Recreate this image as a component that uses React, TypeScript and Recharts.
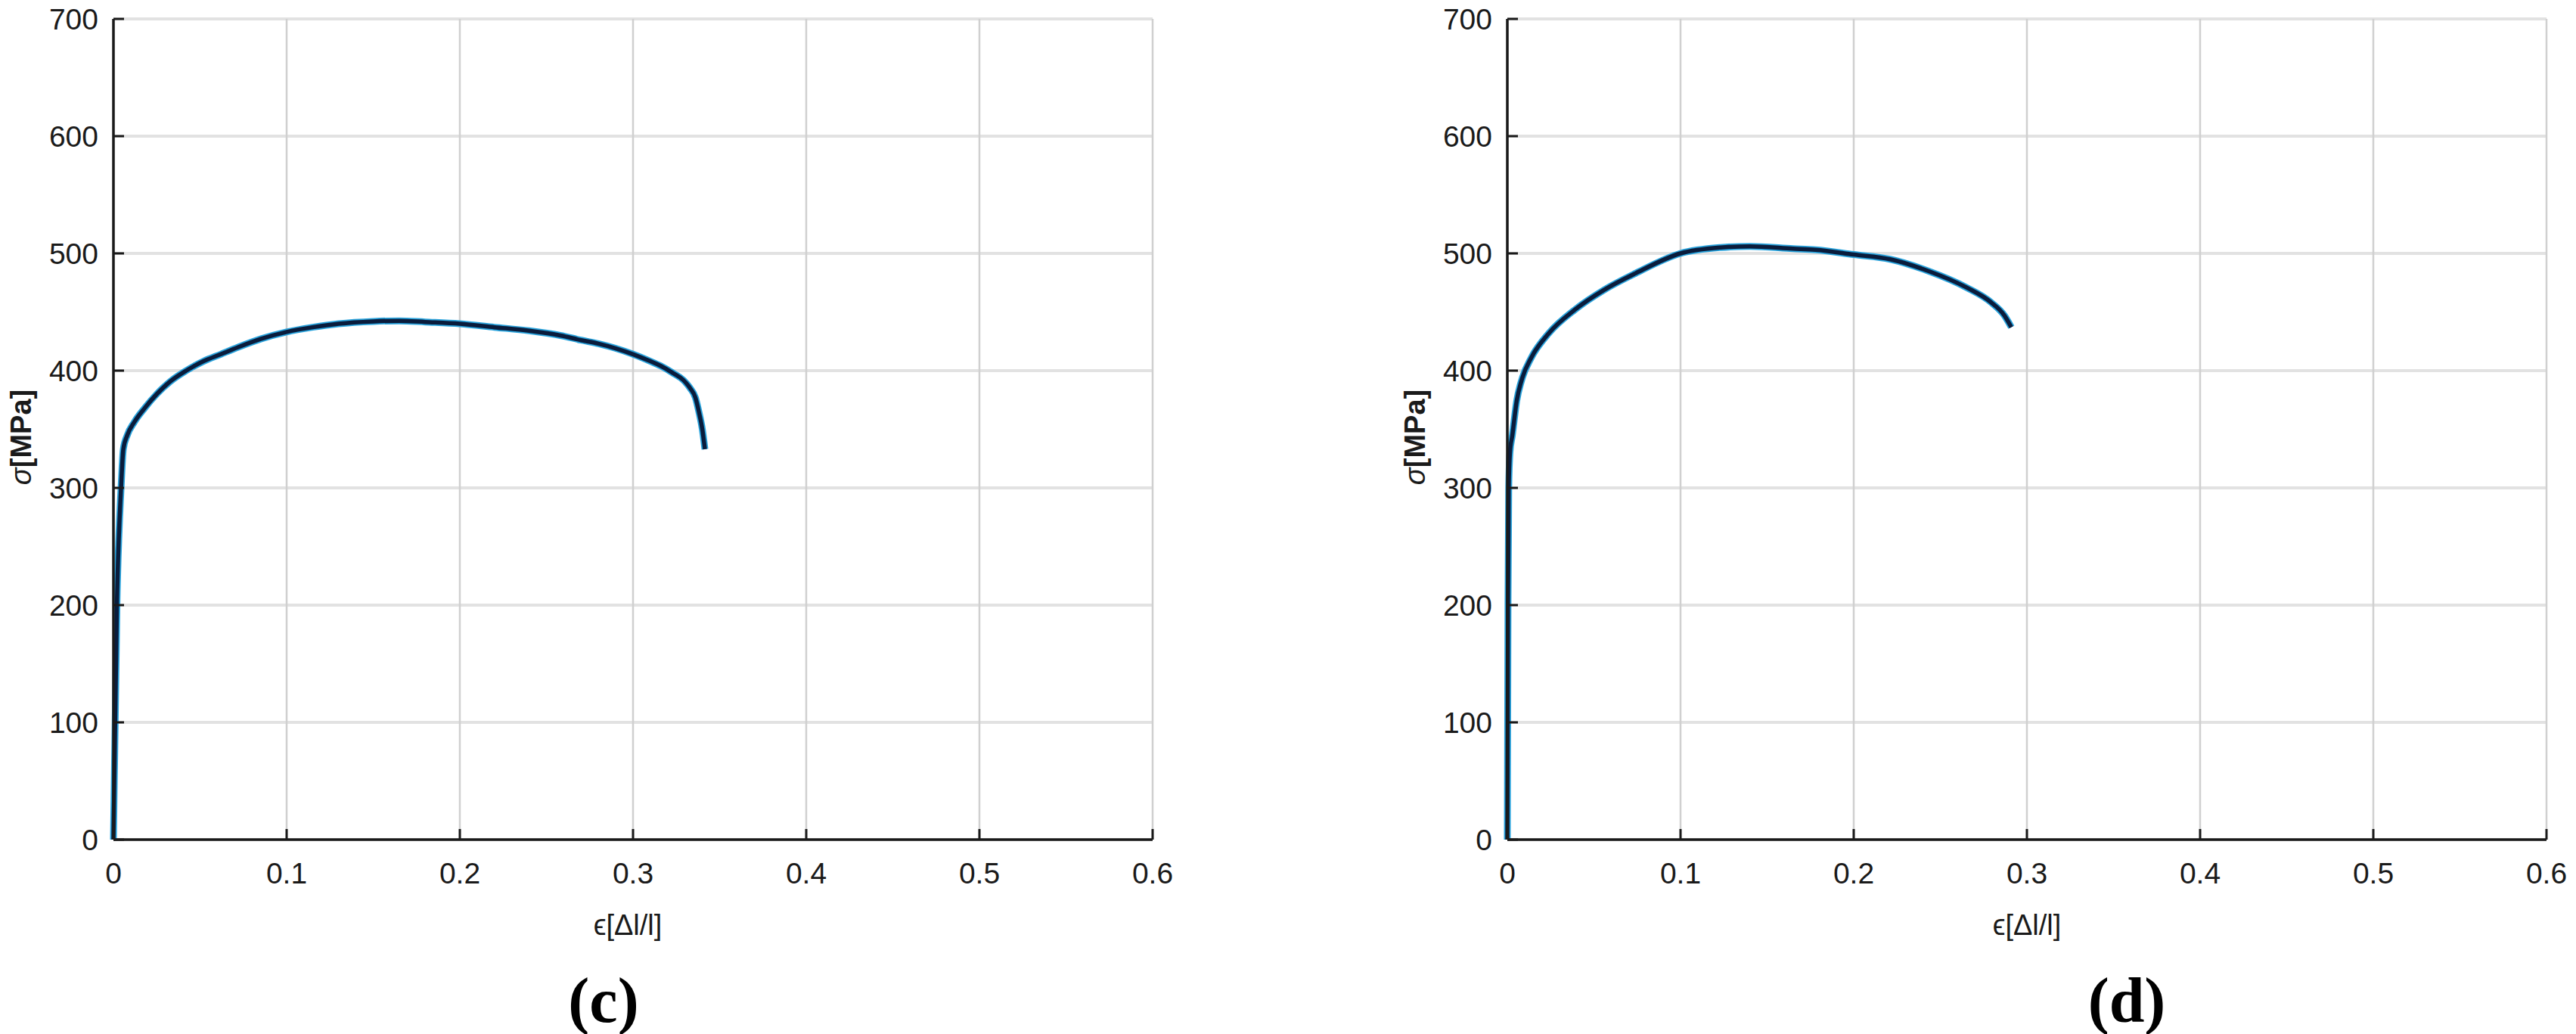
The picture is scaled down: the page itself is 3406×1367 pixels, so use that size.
import { LineChart, Line, XAxis, YAxis, CartesianGrid } from 'recharts';

// axis ticks shared by both panels
const xTicks = [0, 0.1, 0.2, 0.3, 0.4, 0.5, 0.6];
const yTicks = [0, 100, 200, 300, 400, 500, 600, 700];

// panel (c) - strain / stress
const strainC = [0, 0.002, 0.0044, 0.0057, 0.008, 0.012, 0.018, 0.025, 0.033, 0.042, 0.052, 0.062, 0.072, 0.085, 0.1, 0.115, 0.13, 0.15, 0.165, 0.18, 0.2, 0.22, 0.24, 0.258, 0.27, 0.28, 0.29, 0.3, 0.31, 0.316, 0.323, 0.329, 0.333, 0.336, 0.338, 0.34, 0.3415];
const stressC = [0, 200, 300, 333, 345, 356, 368, 380, 391, 400, 408, 414, 420, 427, 433, 437, 440, 442, 442.5, 441.5, 440, 437, 434, 430, 426, 423, 419, 414, 408, 404, 398, 392, 385, 377, 365, 350, 333];

// panel (d)
const strainD = [0, 0.0004, 0.0008, 0.0015, 0.0029, 0.0054, 0.0087, 0.0138, 0.024, 0.039, 0.056, 0.074, 0.1, 0.123, 0.14, 0.165, 0.178, 0.2, 0.221, 0.243, 0.265, 0.2795, 0.287, 0.291];
const stressD = [0, 200, 300, 330, 345, 374, 394, 411, 432, 452, 469, 483, 500, 505, 506, 504, 503, 499, 495, 485, 471, 458, 447, 437];

const toRows = (xs: number[], ys: number[]) => xs.map((x, i) => ({ x, y: ys[i] }));

const AXIS = '#1a1a1a';
const FONT = '"Liberation Sans", Arial, Helvetica, sans-serif';
const Y_GAP = 20;
const X_GAP = 30;
const TICK_LEN = 14;

// MATLAB style: ticks point into the plot, so draw them with the label
const YTick = ({ x, y, payload }: any) => (
  <g>
    <line x1={x + Y_GAP} x2={x + Y_GAP + TICK_LEN} y1={y} y2={y} stroke={AXIS} strokeWidth={3} />
    <text x={x} y={y} dy="0.36em" textAnchor="end" fontSize={39} fill={AXIS} fontFamily={FONT}>
      {payload.value}
    </text>
  </g>
);

const XTick = ({ x, y, payload }: any) => (
  <g>
    <line x1={x} x2={x} y1={y - X_GAP} y2={y - X_GAP - TICK_LEN} stroke={AXIS} strokeWidth={3} />
    <text x={x} y={y} dy="0.72em" textAnchor="middle" fontSize={39} fill={AXIS} fontFamily={FONT}>
      {String(payload.value)}
    </text>
  </g>
);

const Panel = ({ rows, left, marginLeft, marginRight }: any) => (
  <div style={{ position: 'absolute', left, top: 0 }}>
    <LineChart
      width={1703}
      height={1367}
      data={rows}
      margin={{ top: 25, right: marginRight, left: marginLeft, bottom: 197 }}
    >
      <CartesianGrid vertical={false} stroke="#e2e2e2" strokeWidth={4} />
      <CartesianGrid horizontal={false} stroke="#d0d0d0" strokeWidth={2.5} />
      <XAxis
        dataKey="x"
        type="number"
        domain={[0, 0.6]}
        ticks={xTicks}
        height={60}
        tickSize={0}
        tickMargin={X_GAP}
        tickLine={false}
        axisLine={{ stroke: AXIS, strokeWidth: 3.5 }}
        tick={<XTick />}
        interval={0}
      />
      <YAxis
        dataKey="y"
        type="number"
        domain={[0, 700]}
        ticks={yTicks}
        width={100}
        tickSize={0}
        tickMargin={Y_GAP}
        tickLine={false}
        axisLine={{ stroke: AXIS, strokeWidth: 3.5 }}
        tick={<YTick />}
        interval={0}
      />
      <Line type="monotone" dataKey="y" stroke="#2aa3dc" strokeWidth={9} dot={false} isAnimationActive={false} />
      <Line type="monotone" dataKey="y" stroke="#0a1c3c" strokeWidth={5.5} dot={false} isAnimationActive={false} />
    </LineChart>
  </div>
);

const YLabel = ({ cx }: { cx: number }) => (
  <text
    transform={`translate(${cx}, 578) rotate(-90)`}
    textAnchor="middle"
    dominantBaseline="central"
    fontSize={38}
    fill={AXIS}
    fontFamily={FONT}
  >
    <tspan fontStyle="italic">σ</tspan>
    <tspan fontWeight="bold">[MPa]</tspan>
  </text>
);

const XLabel = ({ cx }: { cx: number }) => (
  <text x={cx} y={1223} textAnchor="middle" dominantBaseline="central" fontSize={38} fill={AXIS} fontFamily={FONT}>
    ϵ[Δl/l]
  </text>
);

const PanelTag = ({ cx, tag }: { cx: number; tag: string }) => (
  <text
    x={cx}
    y={1322}
    textAnchor="middle"
    dominantBaseline="central"
    fontSize={84}
    fontWeight="bold"
    fill="#000"
    fontFamily='"Liberation Serif", "Times New Roman", serif'
  >
    ({tag})
  </text>
);

export default function App() {
  return (
    <div style={{ position: 'absolute', left: 0, top: 0, width: 3406, height: 1367, background: '#fff', overflow: 'hidden' }}>
      <Panel rows={toRows(strainC, stressC)} left={0} marginLeft={50} marginRight={179} />
      <Panel rows={toRows(strainD, stressD)} left={1703} marginLeft={190} marginRight={39} />
      <svg width={3406} height={1367} style={{ position: 'absolute', left: 0, top: 0, pointerEvents: 'none' }}>
        <YLabel cx={28} />
        <YLabel cx={1871} />
        <XLabel cx={830} />
        <XLabel cx={2680} />
        <PanelTag cx={798} tag="c" />
        <PanelTag cx={2812} tag="d" />
      </svg>
    </div>
  );
}
